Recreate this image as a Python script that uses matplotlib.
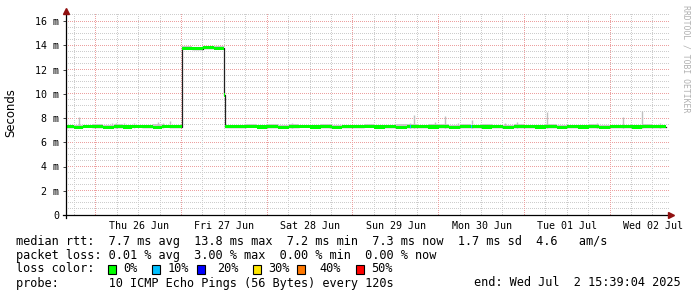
## SmokePing style latency graph
import numpy as np
import matplotlib.pyplot as plt
from matplotlib.patches import Rectangle

# Time is hours since Jun 25 00:00, graph runs Jun 25 15:39 -> Jul 2 15:39
t_start = 15.651
t_end = 183.651

# median rtt (ms), step values starting at each hour mark
med_hours = [15.65, 18.0, 20.5, 23.0, 26.0, 29.0, 31.5, 34.0, 37.0, 40.0, 42.5, 45.0,
             48.0, 48.15, 51.0, 54.0, 57.0, 60.0, 60.15,
             63.0, 66.0, 69.0, 72.0, 75.0, 78.0, 81.0, 84.0, 87.0, 90.0, 93.0,
             96.0, 99.0, 102.0, 105.0, 108.0, 111.0, 114.0, 117.0, 120.0, 123.0,
             126.0, 129.0, 132.0, 135.0, 138.0, 141.0, 144.0, 147.0, 150.0, 153.0,
             156.0, 159.0, 162.0, 165.0, 168.0, 171.0, 174.0, 177.0, 180.0, 183.65]
med_ms = [7.28, 7.25, 7.30, 7.27, 7.25, 7.29, 7.26, 7.30, 7.27, 7.25, 7.31, 7.28,
          13.25, 13.75, 13.72, 13.78, 13.74, 9.9, 7.27,
          7.28, 7.30, 7.26, 7.29, 7.25, 7.28, 7.31, 7.26, 7.27, 7.25, 7.29,
          7.27, 7.30, 7.26, 7.28, 7.25, 7.27, 7.29, 7.26, 7.28, 7.24,
          7.27, 7.29, 7.26, 7.28, 7.25, 7.27, 7.29, 7.26, 7.28, 7.25,
          7.27, 7.26, 7.28, 7.25, 7.27, 7.29, 7.26, 7.28, 7.27, 7.27]
smoke_ms = [7.40, 7.45, 7.42, 7.48, 7.40, 7.50, 7.45, 7.42, 7.40, 7.52, 7.46, 7.44,
            13.30, 13.90, 13.85, 13.88, 13.92, 9.95, 7.42,
            7.45, 7.50, 7.42, 7.48, 7.44, 7.50, 7.46, 7.42, 7.48, 7.44, 7.40,
            7.46, 7.50, 7.42, 7.45, 7.48, 7.52, 7.45, 7.48, 7.50, 7.46,
            7.50, 7.44, 7.48, 7.42, 7.46, 7.50, 7.44, 7.42, 7.48, 7.45,
            7.44, 7.42, 7.48, 7.44, 7.46, 7.42, 7.45, 7.48, 7.44, 7.44]

# single-sample smoke spikes (hour, top ms)
spike_hours = [19.3, 28.5, 29.6, 31.9, 34.7, 41.4, 42.8, 44.8, 72.0, 79.0, 89.6,
               112.0, 113.1, 119.0, 121.8, 125.4, 129.3, 138.6, 142.0, 150.3,
               164.3, 171.6, 176.9, 181.9]
spike_ms = [8.1, 7.55, 7.55, 7.6, 7.55, 7.7, 7.6, 7.75, 7.5, 7.55, 7.5,
            7.55, 8.25, 7.65, 8.2, 7.6, 7.8, 7.6, 7.7, 8.52,
            7.6, 8.06, 8.6, 7.6]

# samples with 10% loss
loss_hours = [112.0, 129.3]

yticks = [0, 2, 4, 6, 8, 10, 12, 14, 16]
ytick_labels = ['0', '2 m', '4 m', '6 m', '8 m', '10 m', '12 m', '14 m', '16 m']
day_noons = [36, 60, 84, 108, 132, 156, 180]
day_labels = ['Thu 26 Jun', 'Fri 27 Jun', 'Sat 28 Jun', 'Sun 29 Jun',
              'Mon 30 Jun', 'Tue 01 Jul', 'Wed 02 Jul']

loss_names = ['0%', '10%', '20%', '30%', '40%', '50%']
loss_colors = ['#00ff00', '#00c0ff', '#0000ff', '#ffe600', '#ff7800', '#ff0000']

W, H = 697, 297
PW, PH = 603, 201          # plot area in pixels
mono = 'DejaVu Sans Mono'
fs = 8.55
tfs = 7.2

fig = plt.figure(figsize=(W / 100, H / 100), dpi=100)
fig.patch.set_facecolor('white')
ax = fig.add_axes([66 / W, 82 / H, PW / W, PH / H])
x0, x1 = t_start, t_start + PW * 0.28
y1 = PH / 12.125
ax.set_xlim(x0, x1)
ax.set_ylim(0, y1)
for s in ax.spines.values():
    s.set_visible(False)

# dotted grid painted pixel by pixel (rrdtool style 1px dots)
grid = np.zeros((PH, PW, 4))
minor_c = np.array([205, 205, 205, 255]) / 255
major_c = np.array([236, 160, 160, 255]) / 255
for v in np.arange(0.5, 16.6, 0.5):
    r = int(round((y1 - v) * PH / y1 - 0.5))
    if 0 <= r < PH:
        grid[r, ::2] = major_c if v % 2 == 0 else minor_c
for h in np.arange(18, 185, 6):
    c = int(round((h - x0) * PW / (x1 - x0) - 0.5))
    if 0 <= c < PW:
        grid[::2, c] = major_c if h % 24 == 0 else minor_c
ax.imshow(grid, extent=(x0, x1, 0, y1), aspect='auto', interpolation='nearest', zorder=0)

# data
hx = np.array(med_hours)
mv = np.array(med_ms)
sv = np.array(smoke_ms)
ax.fill_between(hx, mv, sv, step='post', color='#c8c8c8', lw=0, zorder=1)
ax.vlines(spike_hours, 7.2, spike_ms, color='#c0c0c0', lw=1.0, zorder=1)
ax.step(hx, mv, where='post', color='#202020', lw=0.9, zorder=2)
ax.fill_between(hx, mv - 0.13, mv + 0.13, step='post', color='#00ff00', lw=0, zorder=3)
ax.bar(loss_hours, 0.26, width=0.3, bottom=7.14, color='#00c0ff', lw=0, zorder=4)

# axes lines and arrows
ax.plot([-3 / PW, 1.0], [0, 0], transform=ax.transAxes, color='black', lw=0.9, clip_on=False, zorder=5)
ax.plot([0, 0], [-3 / PH, 1.005], transform=ax.transAxes, color='black', lw=0.9, clip_on=False, zorder=5)
ax.plot([1.004], [0], marker='>', ms=4, color='#901010', transform=ax.transAxes, clip_on=False, zorder=6)
ax.plot([0], [1.017], marker='^', ms=4, color='#901010', transform=ax.transAxes, clip_on=False, zorder=6)

ax.set_yticks(yticks)
ax.set_yticklabels(ytick_labels, family=mono, fontsize=tfs)
ax.set_xticks(day_noons)
ax.set_xticklabels(day_labels, family=mono, fontsize=tfs)
ax.tick_params(axis='y', length=2.2, width=0.7, color='#404040', pad=2.9)
ax.tick_params(axis='x', length=0, pad=4.0)

fig.text(11 / W, 1 - 113 / H, 'Seconds', rotation=90, ha='center', va='center', fontsize=8.4)
fig.text(686 / W, 1 - 5 / H, 'RRDTOOL / TOBI OETIKER', rotation=270, ha='center', va='top',
         family=mono, fontsize=5.9, color='#b0b0b0')

# legend block
def ftxt(x, y, s, **kw):
    fig.text(x / W, 1 - y / H, s, family=mono, fontsize=fs, va='center', **kw)

ftxt(16, 241, 'median rtt:  7.7 ms avg  13.8 ms max  7.2 ms min  7.3 ms now  1.7 ms sd  4.6   am/s')
ftxt(16, 255, 'packet loss: 0.01 % avg  3.00 % max  0.00 % min  0.00 % now')
ftxt(16, 269, 'loss color:')
box_x = [108, 152, 197, 253, 297, 356]
lab_x = [123, 168, 217, 268, 319, 371]
for bx, lx, name, col in zip(box_x, lab_x, loss_names, loss_colors):
    fig.patches.append(Rectangle((bx / W, 1 - 274 / H), 8 / W, 9 / H, transform=fig.transFigure,
                                 facecolor=col, edgecolor='black', lw=0.8))
    ftxt(lx, 269, name)
ftxt(16, 283, 'probe:       10 ICMP Echo Pings (56 Bytes) every 120s')
ftxt(681, 283, 'end: Wed Jul  2 15:39:04 2025', ha='right')

fig.savefig('out.png', dpi=100)
